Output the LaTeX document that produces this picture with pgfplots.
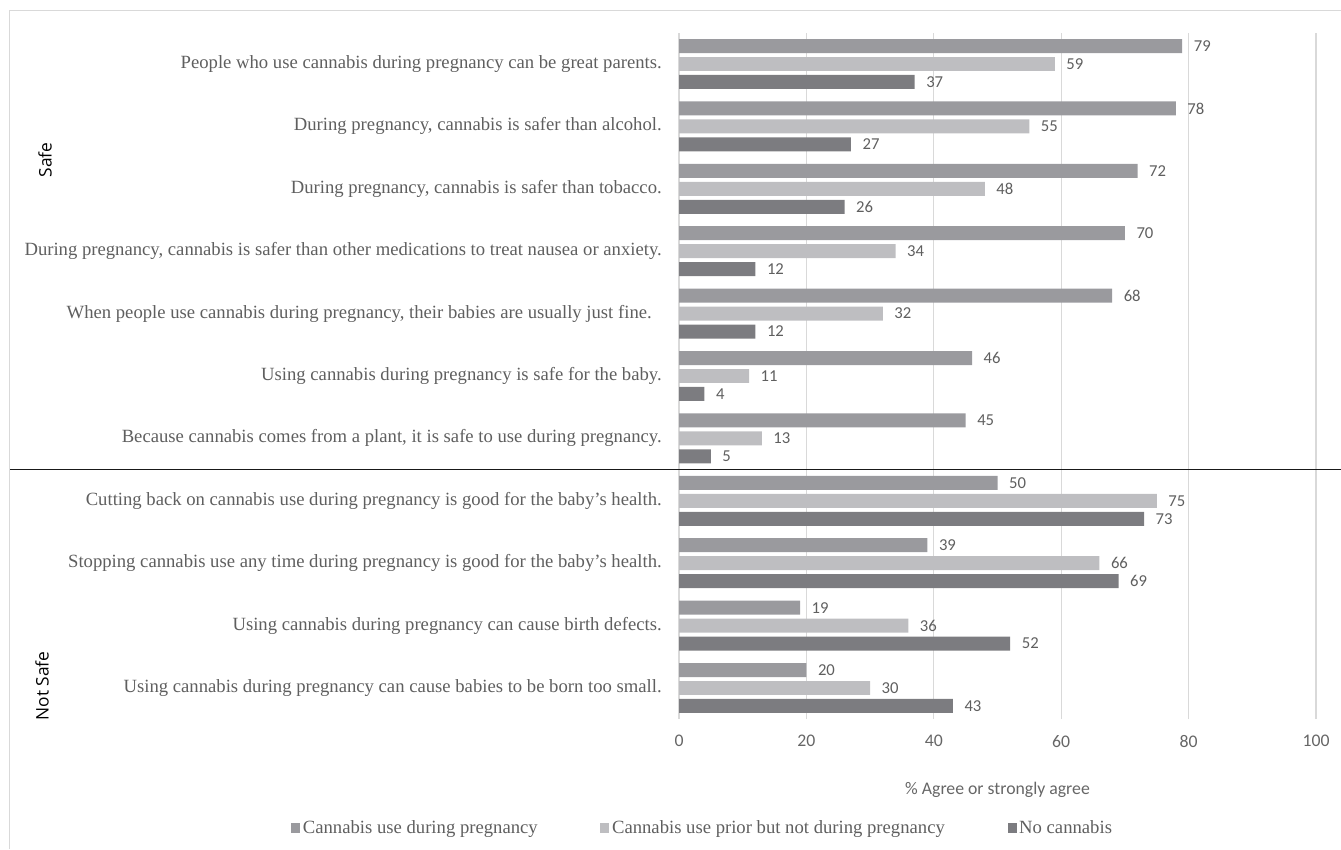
\documentclass[border=0pt]{standalone}
\usepackage{pgfplots}
\pgfplotsset{compat=1.18}
\usepackage{fontspec}
\setmainfont{Liberation Serif}
\newfontfamily\tms{Liberation Serif}
\newfontfamily\carl{Carlito}
\newfontfamily\osans{Open Sans}
\usetikzlibrary{calc}

\definecolor{usedur}{HTML}{9A9A9E}
\definecolor{useprior}{HTML}{BEBEC1}
\definecolor{nouse}{HTML}{7C7C80}
\definecolor{gridgray}{HTML}{D9D9D9}
\definecolor{labelgray}{HTML}{5F5F5F}
\definecolor{tickgray}{HTML}{666666}

\begin{document}
\begin{tikzpicture}
\path[use as bounding box] (0,0) rectangle (1005.75pt,-636.75pt);
% outer frame
\draw[gridgray, line width=0.75pt] (7pt,-636.75pt) -- (7pt,-8.25pt) -- (1005.75pt,-8.25pt);

\begin{axis}[
  at={(509.25pt,-539.4pt)}, anchor=south west,
  scale only axis, width=477.75pt, height=514.8pt,
  xmin=0, xmax=100, ymin=-0.5, ymax=10.5,
  /pgf/number format/assume math mode=true,
  xbar, bar width=0.224,
  xtick={0,20,40,60,80,100},
  ytick={0,...,10},
  yticklabels={
    Using cannabis during pregnancy can cause babies to be born too small.,
    Using cannabis during pregnancy can cause birth defects.,
    Stopping cannabis use any time during pregnancy is good for the baby’s health.,
    Cutting back on cannabis use during pregnancy is good for the baby’s health.,
    {Because cannabis comes from a plant, it is safe to use during pregnancy.},
    Using cannabis during pregnancy is safe for the baby.,
    {When people use cannabis during pregnancy, their babies are usually just fine.\kern7.5pt},
    {During pregnancy, cannabis is safer than other medications to treat nausea or anxiety.},
    {During pregnancy, cannabis is safer than tobacco.},
    {During pregnancy, cannabis is safer than alcohol.},
    People who use cannabis during pregnancy can be great parents.
  },
  yticklabel style={font=\tms\fontsize{14}{16}\selectfont, text=labelgray, anchor=east, inner sep=0pt, xshift=-12.75pt},
  xticklabel style={font=\carl\fontsize{13.3}{16}\selectfont, text=tickgray, yshift=-8.5pt},
  xmajorgrids, grid style={draw=gridgray, line width=1pt},
  axis line style={draw=none}, major tick length=0pt,
  xlabel={\% Agree or strongly agree},
  xlabel style={at={(axis description cs:0.5,0)}, anchor=center, yshift=-53.1pt,
    font=\carl\fontsize{13.3}{16}\selectfont, text=tickgray},
  legend columns=3,
  legend style={at={(-0.6154,-0.1585)}, anchor=west, draw=none, fill=none,
    font=\tms\fontsize{14}{16}\selectfont, text=labelgray,
    /tikz/every even column/.append style={column sep=45pt}},
  legend image code/.code={\fill[#1] (0pt,-3.4pt) rectangle (6.75pt,3.4pt);},
  every node near coord/.append style={font=\carl\fontsize{12.5}{14}\selectfont, text=labelgray,
    anchor=west, inner sep=0pt, xshift=8.5pt},
]
\addplot[fill=usedur, draw=none, bar shift=0.288, nodes near coords] coordinates {
  (79,10) (78,9) (72,8) (70,7) (68,6) (46,5) (45,4) (50,3) (39,2) (19,1) (20,0)};
\addplot[fill=useprior, draw=none, bar shift=0, nodes near coords] coordinates {
  (59,10) (55,9) (48,8) (34,7) (32,6) (11,5) (13,4) (75,3) (66,2) (36,1) (30,0)};
\addplot[fill=nouse, draw=none, bar shift=-0.288, nodes near coords] coordinates {
  (37,10) (27,9) (26,8) (12,7) (12,6) (4,5) (5,4) (73,3) (69,2) (52,1) (43,0)};
\legend{Cannabis use during pregnancy,
  Cannabis use prior but not during pregnancy,
  No cannabis}
\coordinate (sep) at (axis cs:0,3.5);
\end{axis}

% divider between the two groups of statements
\draw[black!90, line width=0.75pt] let \p1=(sep) in (7.5pt,\y1) -- (1005.75pt,\y1);

\node[rotate=90, font=\osans\fontsize{13}{15}\selectfont] at (33.75pt,-120pt) {Safe};
\node[rotate=90, font=\osans\fontsize{13}{15}\selectfont] at (31.5pt,-514.5pt) {Not Safe};
\end{tikzpicture}
\end{document}
